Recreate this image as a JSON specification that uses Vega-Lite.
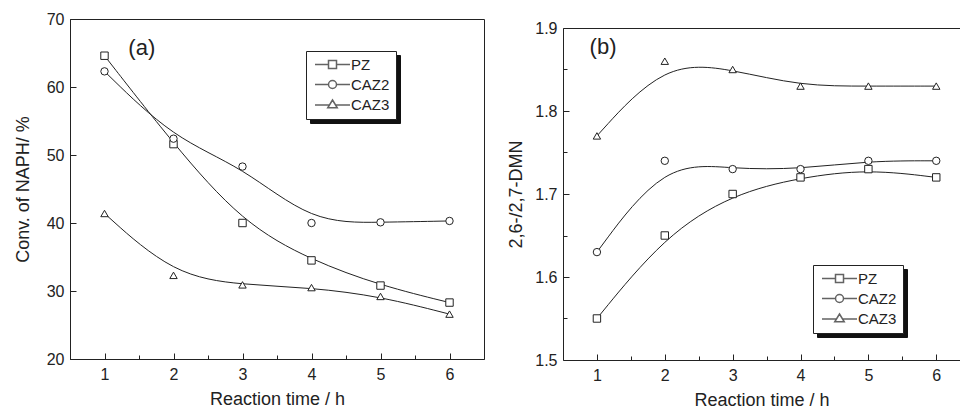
{
  "$schema": "https://vega.github.io/schema/vega-lite/v6.json",
  "padding": {"left": 13, "top": 10, "right": 0, "bottom": 0},
  "spacing": 22,
  "config": {
    "font": "Liberation Sans",
    "view": {"stroke": "#222", "strokeWidth": 1},
    "axis": {
      "grid": false, "domain": true, "domainColor": "#222", "tickColor": "#222",
      "tickSize": -5, "labelPadding": 12, "labelFontSize": 16, "labelColor": "#222",
      "titleFontSize": 18, "titleFontWeight": "normal", "titleColor": "#222", "labelFont": "Liberation Sans", "titleFont": "Liberation Sans"
    },
    "legend": {
      "orient": "none", "title": null, "strokeColor": "#222", "fillColor": "white",
      "padding": 6, "labelFontSize": 15, "labelColor": "#222",
      "labelOffset": 11, "rowPadding": 4, "symbolOffset": 13, "symbolStrokeColor": "#222", "symbolSize": 100
    }
  },
  "datasets": {
    "a": [
      {"t": 1, "series": "PZ", "v": 64.6}, {"t": 2, "series": "PZ", "v": 51.6}, {"t": 3, "series": "PZ", "v": 40.0},
      {"t": 4, "series": "PZ", "v": 34.5}, {"t": 5, "series": "PZ", "v": 30.8}, {"t": 6, "series": "PZ", "v": 28.3},
      {"t": 1, "series": "CAZ2", "v": 62.3}, {"t": 2, "series": "CAZ2", "v": 52.4}, {"t": 3, "series": "CAZ2", "v": 48.3},
      {"t": 4, "series": "CAZ2", "v": 40.0}, {"t": 5, "series": "CAZ2", "v": 40.1}, {"t": 6, "series": "CAZ2", "v": 40.3},
      {"t": 1, "series": "CAZ3", "v": 41.4}, {"t": 2, "series": "CAZ3", "v": 32.3}, {"t": 3, "series": "CAZ3", "v": 30.9},
      {"t": 4, "series": "CAZ3", "v": 30.5}, {"t": 5, "series": "CAZ3", "v": 29.2}, {"t": 6, "series": "CAZ3", "v": 26.6}
    ],
    "b": [
      {"t": 1, "series": "PZ", "v": 1.55}, {"t": 2, "series": "PZ", "v": 1.65}, {"t": 3, "series": "PZ", "v": 1.70},
      {"t": 4, "series": "PZ", "v": 1.72}, {"t": 5, "series": "PZ", "v": 1.73}, {"t": 6, "series": "PZ", "v": 1.72},
      {"t": 1, "series": "CAZ2", "v": 1.63}, {"t": 2, "series": "CAZ2", "v": 1.74}, {"t": 3, "series": "CAZ2", "v": 1.73},
      {"t": 4, "series": "CAZ2", "v": 1.73}, {"t": 5, "series": "CAZ2", "v": 1.74}, {"t": 6, "series": "CAZ2", "v": 1.74},
      {"t": 1, "series": "CAZ3", "v": 1.77}, {"t": 2, "series": "CAZ3", "v": 1.86}, {"t": 3, "series": "CAZ3", "v": 1.85},
      {"t": 4, "series": "CAZ3", "v": 1.83}, {"t": 5, "series": "CAZ3", "v": 1.83}, {"t": 6, "series": "CAZ3", "v": 1.83}
    ],
    "la": [{"t": 1.54, "v": 65.7, "label": "(a)"}],
    "lb": [{"t": 1.09, "v": 1.877, "label": "(b)"}]
  },
  "hconcat": [
    {
      "width": 414, "height": 340,
      "resolve": {"scale": {"shape": "independent"}},
      "layer": [
        {
          "data": {"name": "a"},
          "mark": {"type": "line", "interpolate": "basis", "color": "#222", "strokeWidth": 1},
          "encoding": {
            "x": {"field": "t", "type": "quantitative", "scale": {"domain": [0.5, 6.5], "nice": false},
                  "axis": {"title": "Reaction time / h", "values": [1, 1.5, 2, 2.5, 3, 3.5, 4, 4.5, 5, 5.5, 6],
                           "labelExpr": "datum.value % 1 === 0 ? format(datum.value, 'd') : ''", "titlePadding": 8, "labelPadding": 13,
                           "tickSize": {"condition": {"test": "datum.value % 1 === 0", "value": -6}, "value": -4}}},
            "y": {"field": "v", "type": "quantitative", "scale": {"domain": [20, 70], "nice": false},
                  "axis": {"title": "Conv. of NAPH/ %", "values": [20, 25, 30, 35, 40, 45, 50, 55, 60, 65, 70],
                           "labelExpr": "datum.value % 10 === 0 ? datum.label : ''", "titlePadding": 14,
                           "tickSize": {"condition": {"test": "datum.value % 10 === 0", "value": -6}, "value": -4}}},
            "detail": {"field": "series"}
          }
        },
        {
          "data": {"name": "a"},
          "mark": {"type": "point", "fill": "white", "stroke": "#222", "strokeWidth": 1, "size": 55, "opacity": 1, "filled": false},
          "encoding": {
            "x": {"field": "t", "type": "quantitative"},
            "y": {"field": "v", "type": "quantitative"},
            "shape": {"field": "series", "type": "nominal", "legend": null,
                      "scale": {"domain": ["PZ", "CAZ2", "CAZ3"], "range": ["square", "circle", "triangle-up"]}}
          }
        },
        {
          "data": {"name": "a"},
          "transform": [{"filter": "datum.t > 100"}],
          "mark": {"type": "point"},
          "encoding": {
            "shape": {"field": "series", "type": "nominal",
                      "scale": {"domain": ["PZ", "CAZ2", "CAZ3"], "range": ["square", "circle", "triangle-up"]},
                      "legend": {"legendX": 240, "legendY": 36, "fillColor": "#111", "strokeColor": "#111", "symbolOpacity": 0,
                                 "labelExpr": "''", "symbolSize": 177, "labelOffset": 50}}
          }
        },
        {
          "data": {"name": "a"},
          "transform": [{"filter": "datum.t > 100"}],
          "mark": {"type": "point"},
          "encoding": {
            "shape": {"field": "series", "type": "nominal",
                      "scale": {"domain": ["PZ", "CAZ2", "CAZ3"], "range": ["M-3.5,0H-0.8M0.8,0H3.5M-0.8,-0.8H0.8V0.8H-0.8Z", "M-3.5,0H-0.8M0.8,0H3.5M-0.8,0A0.8,0.8 0 1,1 0.8,0A0.8,0.8 0 1,1 -0.8,0Z", "M-3.5,0.1H-0.6M0.6,0.1H3.5M0,-0.9L0.95,0.65H-0.95Z"]},
                      "legend": {"legendX": 236, "legendY": 32}}
          }
        },
        {
          "data": {"name": "la"},
          "mark": {"type": "text", "fontSize": 22, "color": "#222", "font": "Liberation Sans"},
          "encoding": {
            "x": {"field": "t", "type": "quantitative"},
            "y": {"field": "v", "type": "quantitative"},
            "text": {"field": "label"}
          }
        }
      ]
    },
    {
      "spacing": 0,
      "vconcat": [
        {
          "width": 1, "height": 1,
          "view": {"stroke": null},
          "data": {"values": []},
          "mark": {"type": "point", "opacity": 0},
          "encoding": {}
        },
        {
          "width": 397, "height": 332,
          "view": {"stroke": null},
          "resolve": {"axis": {"x": "independent"}, "scale": {"shape": "independent"}},
          "layer": [
            {
              "data": {"name": "b"},
              "mark": {"type": "line", "interpolate": "basis", "color": "#222", "strokeWidth": 1},
              "encoding": {
                "x": {"field": "t", "type": "quantitative", "scale": {"domain": [0.5, 6.35], "nice": false},
                      "axis": {"title": "Reaction time / h", "values": [1, 1.5, 2, 2.5, 3, 3.5, 4, 4.5, 5, 5.5, 6],
                               "labelExpr": "datum.value % 1 === 0 ? format(datum.value, 'd') : ''", "titlePadding": 8, "labelPadding": 13,
                               "tickSize": {"condition": {"test": "datum.value % 1 === 0", "value": -6}, "value": -4}}},
                "y": {"field": "v", "type": "quantitative", "scale": {"domain": [1.5, 1.9], "nice": false},
                      "axis": {"title": "2,6-/2,7-DMN", "values": [1.5, 1.55, 1.6, 1.65, 1.7, 1.75, 1.8, 1.85, 1.9],
                               "labelExpr": "round(datum.value * 100) % 10 === 0 ? format(datum.value, '.1f') : ''", "titlePadding": 9,
                               "tickSize": {"condition": {"test": "round(datum.value * 100) % 10 === 0", "value": -6}, "value": -4}}},
                "detail": {"field": "series"}
              }
            },
            {
              "data": {"name": "b"},
              "mark": {"type": "point", "fill": "white", "stroke": "#222", "strokeWidth": 1, "size": 55, "opacity": 1, "filled": false},
              "encoding": {
                "x": {"field": "t", "type": "quantitative", "axis": {"orient": "top", "labels": false, "ticks": false, "title": null, "domain": true}},
                "y": {"field": "v", "type": "quantitative"},
                "shape": {"field": "series", "type": "nominal", "legend": null,
                          "scale": {"domain": ["PZ", "CAZ2", "CAZ3"], "range": ["square", "circle", "triangle-up"]}}
              }
            },
            {
              "data": {"name": "b"},
              "transform": [{"filter": "datum.t > 100"}],
              "mark": {"type": "point"},
              "encoding": {
                "shape": {"field": "series", "type": "nominal",
                          "scale": {"domain": ["PZ", "CAZ2", "CAZ3"], "range": ["square", "circle", "triangle-up"]},
                          "legend": {"legendX": 254, "legendY": 241, "fillColor": "#111", "strokeColor": "#111", "symbolOpacity": 0,
                                     "labelExpr": "''", "symbolSize": 177, "labelOffset": 50}}
              }
            },
            {
              "data": {"name": "b"},
              "transform": [{"filter": "datum.t > 100"}],
              "mark": {"type": "point"},
              "encoding": {
                "shape": {"field": "series", "type": "nominal",
                          "scale": {"domain": ["PZ", "CAZ2", "CAZ3"], "range": ["M-3.5,0H-0.8M0.8,0H3.5M-0.8,-0.8H0.8V0.8H-0.8Z", "M-3.5,0H-0.8M0.8,0H3.5M-0.8,0A0.8,0.8 0 1,1 0.8,0A0.8,0.8 0 1,1 -0.8,0Z", "M-3.5,0.1H-0.6M0.6,0.1H3.5M0,-0.9L0.95,0.65H-0.95Z"]},
                          "legend": {"legendX": 250, "legendY": 237}}
              }
            },
            {
              "data": {"name": "lb"},
              "mark": {"type": "text", "fontSize": 22, "color": "#222", "font": "Liberation Sans"},
              "encoding": {
                "x": {"field": "t", "type": "quantitative", "axis": null},
                "y": {"field": "v", "type": "quantitative"},
                "text": {"field": "label"}
              }
            }
          ]
        }
      ]
    }
  ]
}
